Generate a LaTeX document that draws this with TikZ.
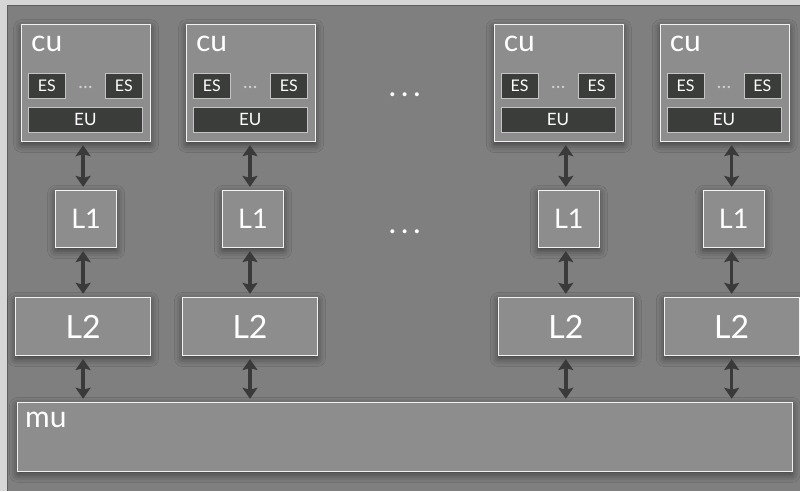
\documentclass[tikz,border=0pt]{standalone}
\usepackage{fontspec}
\setmainfont{Lato}
\usetikzlibrary{arrows.meta}
\usetikzlibrary{shadows.blur}
\definecolor{rim}{HTML}{D6D6D6}
\definecolor{panel}{HTML}{7F7F7F}
\definecolor{panelline}{HTML}{5E5E5E}
\definecolor{boxfill}{HTML}{8D8D8D}
\definecolor{boxline}{HTML}{F2F2F2}
\definecolor{slot}{HTML}{3B3D3B}
\definecolor{slotline}{HTML}{C4C4C4}
\definecolor{wire}{HTML}{3A3A3A}

\begin{document}
\begin{tikzpicture}[x=1pt, y=-1pt,
    unit/.style={draw=boxline, fill=boxfill, line width=1.3pt, anchor=north west,
      inner sep=0pt, blur shadow={shadow xshift=0pt, shadow yshift=-3pt,
      shadow blur radius=8pt, shadow opacity=55}},
    slotbox/.style={draw=slotline, fill=slot, line width=0.8pt, anchor=north west,
      inner sep=0pt, text=white, font=\fontsize{16}{16}\selectfont},
    unitname/.style={text=white, inner sep=0pt, anchor=base west, font=\fontsize{30}{30}\selectfont},
    gapdots/.style={text=white, inner sep=0pt, anchor=base, font=\fontsize{26}{26}\selectfont\bfseries},
    link/.style={wire, line width=3.5pt, {Stealth[length=11pt,width=15pt,inset=2pt]}-{Stealth[length=11pt,width=15pt,inset=2pt]}, shorten >=3pt, shorten <=3pt}]
    % frame
    \fill[rim] (0,0) rectangle (800,491);
    \fill[panel] (7,5) rectangle (800,491);
    \draw[panelline, line width=1pt] (7.5,491) -- (7.5,5.5) -- (800,5.5);

    % memory unit
    \node[unit, minimum width=775, minimum height=69] (mu) at (17,402) {};
    \node[unitname] (mutext) at (25,428) {mu};

    % \cx: compute unit, \ax: L1, \bx: L2 (left edges)
    \foreach \i/\cx/\ax/\bx in {1/21/55/15, 2/186/222/182, 3/494/538/498, 4/660/703/664} {
      % compute unit
      \node[unit, minimum width=129, minimum height=117] (cu\i) at (\cx,24) {};
      \node[unitname] (cutext\i) at (\cx+10,52) {cu};
      \node[slotbox, minimum width=37, minimum height=25] (esa\i) at (\cx+7,73) {ES};
      \node[slotbox, minimum width=37, minimum height=25] (esb\i) at (\cx+84,73) {ES};
      \node[text=slotline!80!white, inner sep=0pt, anchor=base, font=\fontsize{19}{19}\selectfont] (esdots\i) at (\cx+64.5,89) {\dots};
      \node[slotbox, minimum width=114, minimum height=25, font=\fontsize{17}{17}\selectfont] (eu\i) at (\cx+7,107) {EU};
      % caches
      \node[unit, minimum width=61, minimum height=57, text=white, font=\fontsize{27}{27}\selectfont] (la\i) at (\ax,190) {L1};
      \node[unit, minimum width=135, minimum height=58, text=white, font=\fontsize{32}{32}\selectfont] (lb\i) at (\bx,297) {L2};
      % links
      \draw[link] (cu\i.south -| lb\i.center) -- (la\i.north -| lb\i.center);
      \draw[link] (la\i.south -| lb\i.center) -- (lb\i.north);
      \draw[link] (lb\i.south) -- (mu.north -| lb\i.center);
    }

    \node[gapdots] (gapcu) at (405,97) {.\kern6pt.\kern6pt.};
    \node[gapdots] (gapla) at (405,234) {.\kern6pt.\kern6pt.};
\end{tikzpicture}
\end{document}
